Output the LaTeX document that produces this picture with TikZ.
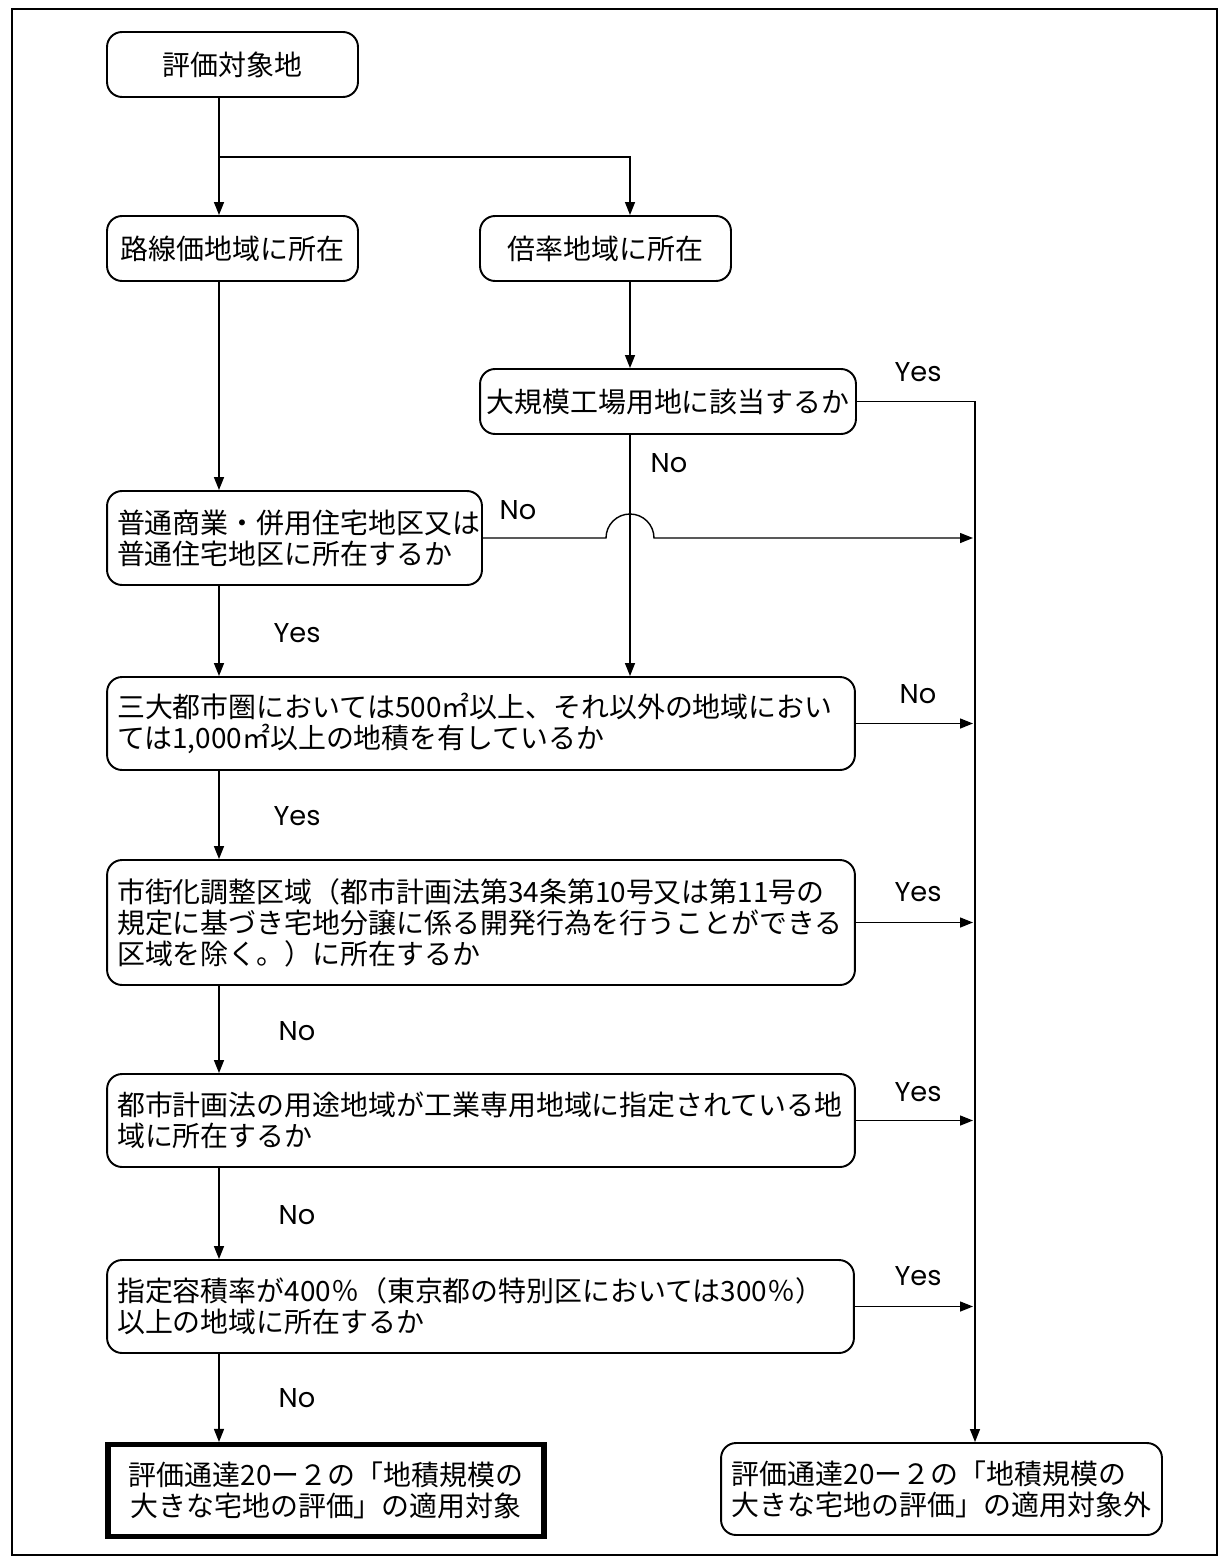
\documentclass[tikz,border=0pt]{standalone}
\usepackage{fontspec}
\setmainfont{Noto Sans CJK JP}
\newfontfamily\latinfont{Poppins}
\usetikzlibrary{arrows.meta,calc}

\tikzset{
  box/.style={draw,line width=1.1pt,rounded corners=0.3cm,inner xsep=0.2cm,inner ysep=0pt,
    font=\fontsize{15.9pt}{17.6pt}\selectfont},
  leftbox/.style={box,align=left,text width=#1},
  endbox/.style={draw,line width=2.9pt,align=center,inner sep=0pt,
    font=\fontsize{15.9pt}{17.6pt}\selectfont},
  arr/.style={line width=0.8pt,-{Triangle[length=0.26cm,width=0.2cm]}},
  line/.style={line width=0.8pt},
  lbl/.style={font=\latinfont\fontsize{15.5pt}{17pt}\selectfont,inner sep=0pt}
}

\begin{document}
\begin{tikzpicture}[x=0.02cm,y=-0.02cm]
        \useasboundingbox (0,0) rectangle (1226,1564);
        \draw[line width=0.6pt] (12,9) rectangle (1217,1555);

        % columns of connectors
        \coordinate (lx) at (219,0);
        \coordinate (mx) at (630,0);
        \coordinate (rx) at (975,0);
        \coordinate (branch) at (219,157);

        % boxes
        \node[box,minimum width=5.02cm,minimum height=1.3cm] (start) at (232.5,64.5) {評価対象地};
        \node[box,minimum width=5.02cm,minimum height=1.3cm] (rosen) at (232.5,248.5) {路線価地域に所在};
        \node[box,minimum width=5.02cm,minimum height=1.3cm] (bairitsu) at (605.5,248.5) {倍率地域に所在};
        \node[box,minimum width=7.52cm,minimum height=1.3cm,inner xsep=0pt] (kojo) at (668,401.5) {大規模工場用地に該当するか};
        \node[leftbox=7.1cm,minimum height=1.88cm] (futsu) at (294.5,538) {普通商業・併用住宅地区又は\\普通住宅地区に所在するか};
        \node[leftbox=14.56cm,minimum height=1.86cm] (menseki) at (481,723.5) {三大都市圏においては500㎡以上、それ以外の地域におい\\ては1,000㎡以上の地積を有しているか};
        \node[leftbox=14.56cm,minimum height=2.5cm] (chosei) at (481,922.5) {市街化調整区域（都市計画法第34条第10号又は第11号の\\規定に基づき宅地分譲に係る開発行為を行うことができる\\区域を除く。）に所在するか};
        \node[leftbox=14.56cm,minimum height=1.86cm] (kogyo) at (481,1120.5) {都市計画法の用途地域が工業専用地域に指定されている地\\域に所在するか};
        \node[leftbox=14.54cm,minimum height=1.86cm] (yoseki) at (480.5,1306.5) {指定容積率が400％（東京都の特別区においては300％）\\以上の地域に所在するか};
        \node[endbox,minimum width=8.72cm,minimum height=1.84cm] (taisho) at (326,1490.5) {評価通達20ー２の「地積規模の\\大きな宅地の評価」の適用対象};
        \node[box,align=left,minimum width=8.82cm,minimum height=1.84cm] (taishogai) at (941.5,1489) {評価通達20ー２の「地積規模の\\大きな宅地の評価」の適用対象外};

        % left column
        \draw[arr] (start.south -| lx) -- (rosen.north -| lx);
        \draw[arr] (branch) -| (bairitsu.north -| mx);
        \draw[arr] (rosen.south -| lx) -- (futsu.north -| lx);
        \draw[arr] (futsu.south -| lx) -- (menseki.north -| lx);
        \draw[arr] (menseki.south -| lx) -- (chosei.north -| lx);
        \draw[arr] (chosei.south -| lx) -- (kogyo.north -| lx);
        \draw[arr] (kogyo.south -| lx) -- (yoseki.north -| lx);
        \draw[arr] (yoseki.south -| lx) -- (taisho.north -| lx);

        % middle column
        \draw[arr] (bairitsu.south -| mx) -- (kojo.north -| mx);
        \draw[arr] (kojo.south -| mx) -- (menseki.north -| mx);

        % right column
        \draw[arr] (kojo.east) -| (taishogai.north -| rx);
        \draw[arr] (futsu.east) -- ($(futsu.east -| mx)+(-24,0)$)
            arc[start angle=180,end angle=0,radius=0.48cm] -- ($(futsu.east -| rx)+(-2,0)$);
        \draw[arr] (menseki.east) -- ($(menseki.east -| rx)+(-2,0)$);
        \draw[arr] (chosei.east) -- ($(chosei.east -| rx)+(-2,0)$);
        \draw[arr] (kogyo.east) -- ($(kogyo.east -| rx)+(-2,0)$);
        \draw[arr] (yoseki.east) -- ($(yoseki.east -| rx)+(-2,0)$);

        % labels
        \node[lbl] (yes1) at (918,372) {Yes};
        \node[lbl] (no1) at (669,463) {No};
        \node[lbl] (no2) at (518,510) {No};
        \node[lbl] (yes2) at (297,633) {Yes};
        \node[lbl] (no3) at (918,694) {No};
        \node[lbl] (yes3) at (297,816) {Yes};
        \node[lbl] (yes4) at (918,892) {Yes};
        \node[lbl] (no4) at (297,1031) {No};
        \node[lbl] (yes5) at (918,1092) {Yes};
        \node[lbl] (no5) at (297,1215) {No};
        \node[lbl] (yes6) at (918,1276) {Yes};
        \node[lbl] (no6) at (297,1398) {No};

    \end{tikzpicture}
\end{document}
